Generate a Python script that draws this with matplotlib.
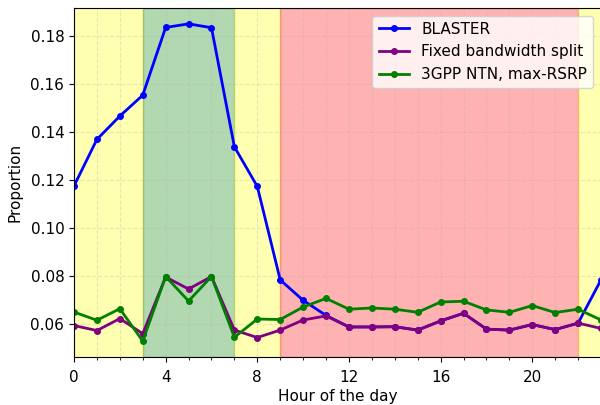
import matplotlib
matplotlib.use("Agg")
import matplotlib.pyplot as plt
from matplotlib.ticker import MultipleLocator

hours = list(range(24))
blaster = [0.1176, 0.1370, 0.1467, 0.1554, 0.1836, 0.1851, 0.1835, 0.1339,
           0.1174, 0.0785, 0.0700, 0.0637, 0.0589, 0.0589, 0.0590, 0.0576,
           0.0614, 0.0646, 0.0580, 0.0576, 0.0599, 0.0578, 0.0605, 0.0785]
fixed = [0.0595, 0.0574, 0.0624, 0.0561, 0.0797, 0.0747, 0.0799, 0.0576,
         0.0545, 0.0576, 0.0618, 0.0635, 0.0589, 0.0589, 0.0590, 0.0576,
         0.0614, 0.0646, 0.0580, 0.0576, 0.0599, 0.0578, 0.0605, 0.0583]
ntn = [0.0651, 0.0617, 0.0665, 0.0530, 0.0799, 0.0697, 0.0799, 0.0546,
       0.0622, 0.0620, 0.0672, 0.0708, 0.0663, 0.0668, 0.0663, 0.0650,
       0.0693, 0.0696, 0.0660, 0.0650, 0.0678, 0.0649, 0.0663, 0.0618]

spans = [(0, 3, "yellow"), (3, 7, "green"), (7, 9, "yellow"),
         (9, 22, "red"), (22, 24, "yellow")]

plt.rcParams["font.size"] = 11
fig = plt.figure(figsize=(6, 4.05), dpi=100)
ax = fig.add_axes([74/600, 48/405, 527/600, 349/405])

for s, e, c in spans:
    ax.axvspan(s, e, color=c, alpha=0.3, zorder=0)

ax.plot(hours, blaster, "-o", color="blue", lw=2, ms=4, label="BLASTER")
ax.plot(hours, fixed, "-o", color="purple", lw=2, ms=4, label="Fixed bandwidth split")
ax.plot(hours, ntn, "-o", color="green", lw=2, ms=4, label="3GPP NTN, max-RSRP")

ax.set_xlim(0, 23)
ax.set_xticks([0, 4, 8, 12, 16, 20])
ax.xaxis.set_minor_locator(MultipleLocator(1))
ax.tick_params(axis="x", which="major", pad=5.5)
ax.grid(which="major", linestyle="--", alpha=0.3)
ax.xaxis.grid(which="minor", linestyle="--", alpha=0.3)
ax.set_xlabel("Hour of the day", labelpad=3)
ax.set_ylabel("Proportion", labelpad=5.5)
ax.legend(loc="upper right")

fig.savefig("out.png", dpi=100)
